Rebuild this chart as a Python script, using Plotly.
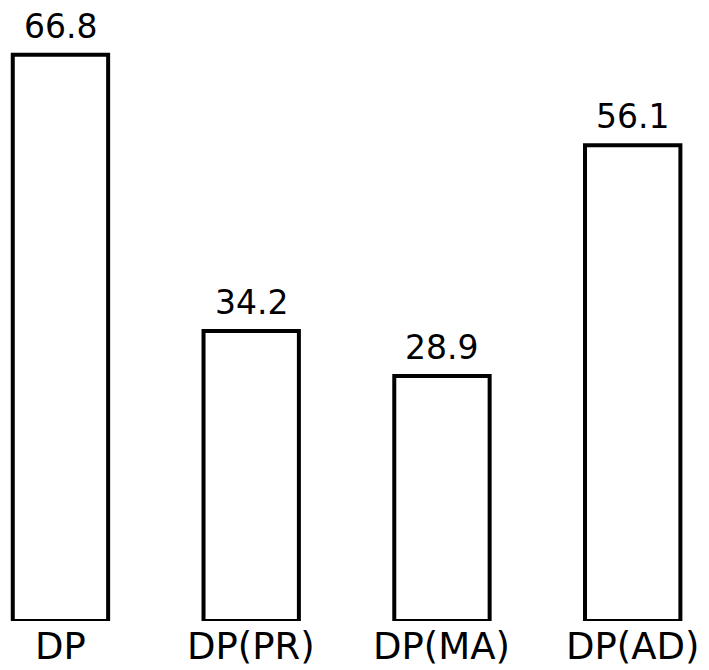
import plotly.graph_objects as go

categories = ["DP", "DP(PR)", "DP(MA)", "DP(AD)"]
values = [66.8, 34.2, 28.9, 56.1]
value_labels = ["66.8", "34.2", "28.9", "56.1"]

xpos = list(range(len(categories)))

fig = go.Figure()
fig.add_trace(go.Bar(
    x=xpos, y=values, width=0.5,
    marker=dict(color="white", line=dict(color="black", width=4)),
    hoverinfo="skip", showlegend=False, cliponaxis=False,
))

for x, v, t in zip(xpos, values, value_labels):
    fig.add_annotation(x=x, y=v, text=t, showarrow=False, yanchor="bottom",
                       yshift=7, font=dict(family="DejaVu Sans", size=33, color="black"))

for x, c in zip(xpos, categories):
    fig.add_annotation(x=x, y=0, text=c, showarrow=False, yanchor="top",
                       yshift=-2, font=dict(family="DejaVu Sans", size=37, color="black"))

fig.update_layout(
    width=701, height=662,
    margin=dict(l=0, r=0, t=0, b=49),
    plot_bgcolor="white", paper_bgcolor="white",
    xaxis=dict(range=[-0.275, 3.40], showticklabels=False,
               showgrid=False, zeroline=False, showline=False, ticks="",
               automargin=False),
    yaxis=dict(range=[0, 72.3], visible=False, automargin=False),
)

fig.write_html("out.html")
